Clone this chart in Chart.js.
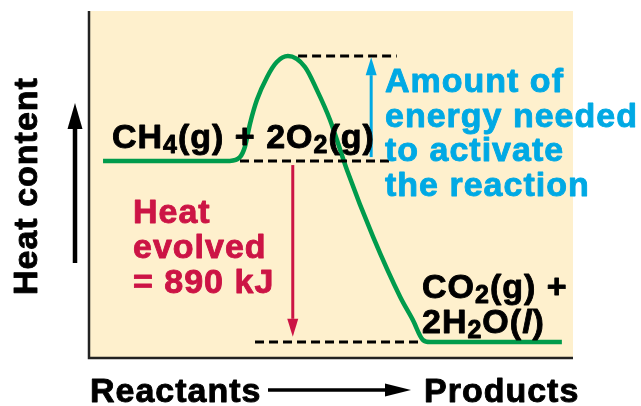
<!DOCTYPE html>
<html lang="en">
<head>
  <meta charset="UTF-8" />
  <title>Heat content diagram</title>
  <script src="https://cdn.jsdelivr.net/npm/chart.js"></script>
  <style>
    body {
      margin: 0;
      background: #fff;
    }
    canvas {
      display: block;
    }
  </style>
</head>
<body>
  <canvas id="energyChart" width="641" height="406"></canvas>

  <script>
    // Reaction path (x = progress, y = heat content, arbitrary units 0-100)
    const curveX = [2.9, 29.1, 31.2, 32.2, 33.3, 34.7, 36.8, 38.8, 41.1, 44.6, 47.1, 49.8, 53.3, 58.7, 64.3, 66.9, 69.0, 70.5, 97.7];
    const curveY = [56.8, 56.8, 57.9, 60.8, 67.7, 74.4, 81.0, 85.3, 87.0, 83.9, 77.2, 68.6, 54.2, 34.9, 17.6, 11.0, 5.2, 4.6, 4.6];

    // Dashed reference levels: peak, reactants, products
    const levelY = [87.0, 56.8, 4.6];
    const dashFrom = [43.2, 31.2, 34.3];
    const dashTo = [63.6, 62.8, 69.0];

    // Arrows: activation energy (up), heat evolved (down)
    const arrowX = [58.3, 42.1];
    const arrowFrom = [57.9, 55.6];
    const arrowTo = [86.7, 6.1];

    // Labels
    const activationLines = ['Amount of', 'energy needed', 'to activate', 'the reaction'];
    const heatLines = ['Heat', 'evolved', '= 890 kJ'];
    const reactantRuns = [['CH', 'n'], ['4', 's'], ['(g) + 2O', 'n'], ['2', 's'], ['(g)', 'n']];
    const productRuns1 = [['CO', 'n'], ['2', 's'], ['(g) +', 'n']];
    const productRuns2 = [['2H', 'n'], ['2', 's'], ['O(', 'n'], ['l', 'i'], [')', 'n']];
    const yTitle = 'Heat content';
    const xStart = 'Reactants';
    const xEnd = 'Products';

    const FONT = "'Liberation Sans', Arial, sans-serif";
    const GREEN = '#009B4C';
    const BLUE = '#00A9E4';
    const RED = '#CC1445';

    function arrow(ctx, x1, y1, x2, y2, width, headLen, headHalf, color) {
      const ang = Math.atan2(y2 - y1, x2 - x1);
      const bx = x2 - headLen * Math.cos(ang);
      const by = y2 - headLen * Math.sin(ang);
      ctx.save();
      ctx.strokeStyle = color;
      ctx.fillStyle = color;
      ctx.lineWidth = width;
      ctx.beginPath();
      ctx.moveTo(x1, y1);
      ctx.lineTo(bx, by);
      ctx.stroke();
      ctx.beginPath();
      ctx.moveTo(x2, y2);
      ctx.lineTo(bx + headHalf * Math.sin(ang), by - headHalf * Math.cos(ang));
      ctx.lineTo(bx - headHalf * Math.sin(ang), by + headHalf * Math.cos(ang));
      ctx.closePath();
      ctx.fill();
      ctx.restore();
    }

    // bold text with a thin outline so it reads as heavy as the original
    function heavyText(ctx, text, x, y) {
      ctx.fillText(text, x, y);
      ctx.strokeText(text, x, y);
    }

    function drawRuns(ctx, runs, x, y) {
      runs.forEach(([text, kind]) => {
        if (kind === 's') {
          ctx.font = 'bold 25px ' + FONT;
          heavyText(ctx, text, x, y + 5);
        } else if (kind === 'i') {
          ctx.font = 'italic bold 34px ' + FONT;
          heavyText(ctx, text, x, y);
        } else {
          ctx.font = 'bold 34px ' + FONT;
          heavyText(ctx, text, x, y);
        }
        x += ctx.measureText(text).width;
      });
    }

    const diagram = {
      id: 'diagram',
      beforeDraw(chart) {
        const { ctx, chartArea: a } = chart;
        ctx.save();
        ctx.fillStyle = '#FEF0CD';
        ctx.fillRect(a.left, a.top, a.right - a.left, a.bottom - a.top);
        ctx.restore();
      },
      afterDraw(chart) {
        const { ctx, chartArea: a, scales } = chart;
        const xs = scales.x, ys = scales.y;
        ctx.save();

        // axis lines
        ctx.strokeStyle = '#222';
        ctx.lineWidth = 2.5;
        ctx.beginPath();
        ctx.moveTo(a.left, a.top);
        ctx.lineTo(a.left, a.bottom);
        ctx.lineTo(a.right, a.bottom);
        ctx.stroke();

        // energy arrows
        const arrowColors = [BLUE, RED];
        arrowX.forEach((v, i) => {
          const px = xs.getPixelForValue(v);
          arrow(ctx, px, ys.getPixelForValue(arrowFrom[i]), px, ys.getPixelForValue(arrowTo[i]), 3, 18, 5.5, arrowColors[i]);
        });

        // axis arrows
        arrow(ctx, 75, 263, 75, 103, 4.5, 26, 7.5, '#000');
        arrow(ctx, 268, 390, 411, 390, 3.5, 26, 6.5, '#000');

        ctx.letterSpacing = '1px';
        ctx.textBaseline = 'alphabetic';
        ctx.textAlign = 'left';
        ctx.lineWidth = 0.9;
        ctx.lineJoin = 'round';

        // activation label
        ctx.fillStyle = BLUE;
        ctx.strokeStyle = BLUE;
        ctx.font = 'bold 34px ' + FONT;
        activationLines.forEach((t, i) => heavyText(ctx, t, 385, 92 + i * 34.5));

        // heat label
        ctx.fillStyle = RED;
        ctx.strokeStyle = RED;
        heatLines.forEach((t, i) => heavyText(ctx, t, 133, 223 + i * 35));

        // formulas
        ctx.fillStyle = '#000';
        ctx.strokeStyle = '#000';
        drawRuns(ctx, reactantRuns, 112, 148);
        drawRuns(ctx, productRuns1, 422, 298);
        drawRuns(ctx, productRuns2, 422, 333);

        // axis titles
        ctx.font = 'bold 34px ' + FONT;
        heavyText(ctx, xStart, 90, 402);
        heavyText(ctx, xEnd, 424, 402);
        ctx.translate(37, 295);
        ctx.rotate(-Math.PI / 2);
        heavyText(ctx, yTitle, 0, 0);

        ctx.restore();
      }
    };

    const dashedSets = levelY.map((y, i) => ({
      data: [{ x: dashFrom[i], y: y }, { x: dashTo[i], y: y }],
      borderColor: '#000',
      borderWidth: 3,
      borderDash: [9, 5],
      showLine: true,
      pointRadius: 0
    }));

    new Chart(document.getElementById('energyChart'), {
      type: 'scatter',
      data: {
        datasets: [
          ...dashedSets,
          {
            data: curveX.map((x, i) => ({ x: x, y: curveY[i] })),
            borderColor: GREEN,
            borderWidth: 4.5,
            showLine: true,
            pointRadius: 0,
            cubicInterpolationMode: 'monotone'
          }
        ]
      },
      options: {
        responsive: false,
        animation: false,
        layout: { padding: { left: 89, top: 11, right: 68, bottom: 48 } },
        plugins: {
          legend: { display: false },
          tooltip: { enabled: false }
        },
        scales: {
          x: { type: 'linear', min: 0, max: 100, display: false },
          y: { type: 'linear', min: 0, max: 100, display: false }
        }
      },
      plugins: [diagram]
    });
  </script>
</body>
</html>
